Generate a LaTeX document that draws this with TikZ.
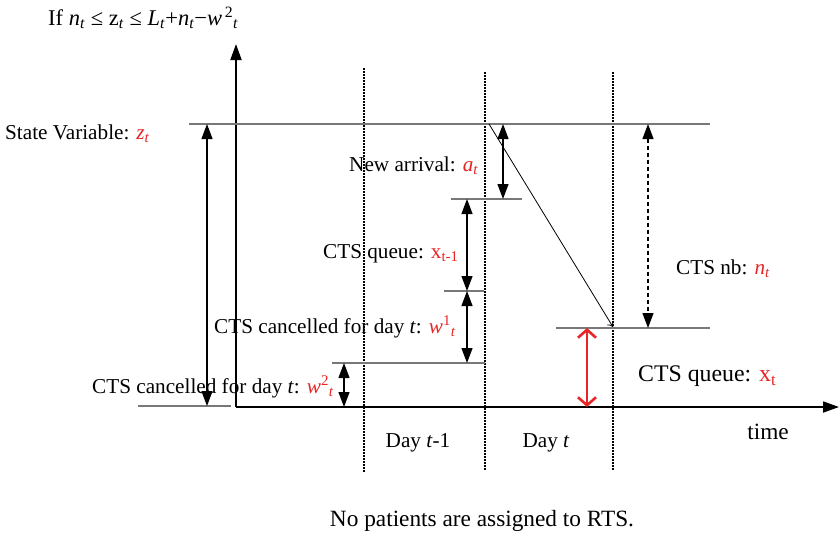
\documentclass[tikz,border=0pt]{standalone}
\usepackage{fontspec}
\setmainfont{Liberation Serif}
\usetikzlibrary{arrows.meta}
\definecolor{lblred}{RGB}{232,36,36}
\definecolor{lgray}{RGB}{120,120,120}
\newcommand{\rd}[1]{\textcolor{lblred}{#1}}
\begin{document}
\begin{tikzpicture}[x=1pt,y=-1pt,
  lbl/.style={inner sep=0pt,font=\fontsize{21.2}{25}\selectfont},
  big/.style={inner sep=0pt,font=\fontsize{23.3}{28}\selectfont},
  level/.style={draw=lgray,line width=1.4pt},
  dayline/.style={line width=1.1pt,dash pattern=on 1.5pt off 1.5pt},
  axis/.style={line width=1.8pt,-{Triangle[length=16pt,width=11pt]}},
  dbl/.style={line width=1.2pt,{Triangle[length=15pt,width=11pt]}-{Triangle[length=15pt,width=11pt]}},
  dbldash/.style={dbl,dash pattern=on 4pt off 3pt},
  redarrow/.style={draw=lblred,line width=2.6pt,{Straight Barb[length=8pt,width=18pt]}-{Straight Barb[length=8pt,width=18pt]}},
  diag/.style={line width=0.8pt,-{To[length=5pt,width=8pt]}}
]
\useasboundingbox (0,0) rectangle (840,536);
% axes
\coordinate (O) at (236,407);
\coordinate (Ytop) at (236,44);
\coordinate (Xend) at (839,407);
\draw[axis] (O) -- (Ytop);
\draw[axis] (O) -- (Xend);
% day separators
\coordinate (d1a) at (364,68); \coordinate (d1b) at (364,472);
\coordinate (d2a) at (485,72); \coordinate (d2b) at (485,471);
\coordinate (d3a) at (613,72); \coordinate (d3b) at (613,471);
\draw[dayline] (d1a) -- (d1b);
\draw[dayline] (d2a) -- (d2b);
\draw[dayline] (d3a) -- (d3b);
% level lines
\coordinate (L1a) at (189,124); \coordinate (L1b) at (710,124);
\coordinate (L2a) at (451,199); \coordinate (L2b) at (522,199);
\coordinate (L3a) at (444,291); \coordinate (L3b) at (484,291);
\coordinate (L4a) at (332,363); \coordinate (L4b) at (485,363);
\coordinate (L5a) at (556,328); \coordinate (L5b) at (710,328);
\coordinate (L6a) at (138,406); \coordinate (L6b) at (231,406);
\draw[level] (L1a) -- (L1b);
\draw[level] (L2a) -- (L2b);
\draw[level] (L3a) -- (L3b);
\draw[level] (L4a) -- (L4b);
\draw[level] (L5a) -- (L5b);
\draw[level] (L6a) -- (L6b);
% measurement arrows
\coordinate (zA) at (207,124); \coordinate (zB) at (207,406);
\coordinate (aA) at (503,124); \coordinate (aB) at (503,199);
\coordinate (qA) at (467,199); \coordinate (qB) at (467,291);
\coordinate (w1A) at (467,291); \coordinate (w1B) at (467,363);
\coordinate (w2A) at (344,363); \coordinate (w2B) at (344,407);
\coordinate (nA) at (648,124); \coordinate (nB) at (648,328);
\coordinate (xA) at (587,328); \coordinate (xB) at (587,407);
\coordinate (gA) at (489,124); \coordinate (gB) at (613,327);
\draw[dbl] (zA) -- (zB);
\draw[dbl] (aA) -- (aB);
\draw[dbl] (qA) -- (qB);
\draw[dbl] (w1A) -- (w1B);
\draw[dbl] (w2A) -- (w2B);
\draw[dbldash] (nA) -- (nB);
\draw[redarrow] (xA) -- (xB);
\draw[diag] (gA) -- (gB);
% labels
\node[inner sep=0pt,font=\fontsize{22.5}{27}\selectfont,anchor=west] (title) at (48,18) {If \textit{n}\textsubscript{\textit{t}} ≤ z\textsubscript{\textit{t}} ≤ \textit{L}\textsubscript{\textit{t}}+\textit{n}\textsubscript{\textit{t}}−\textit{w}\textsuperscript{\,2}\textsubscript{\textit{t}}};
\node[lbl,anchor=west] (state) at (5,134) {State Variable: \rd{\textit{z}\textsubscript{\textit{t}}}};
\node[lbl,anchor=west] (arr) at (349,166) {New arrival: \rd{\textit{a}\textsubscript{\textit{t}}}};
\node[lbl,anchor=west] (qprev) at (323,254) {CTS queue: \rd{x\textsubscript{t-1}}};
\node[lbl,anchor=west] (w1) at (214,327) {CTS cancelled for day \textit{t}: \rd{\textit{w}\textsuperscript{1}\textsubscript{\textit{t}}}};
\node[lbl,anchor=west] (w2) at (92,387) {CTS cancelled for day \textit{t}: \rd{\textit{w}\textsuperscript{2}\textsubscript{\textit{t}}}};
\node[lbl,anchor=west] (nb) at (676,269) {CTS nb: \rd{\textit{n}\textsubscript{\textit{t}}}};
\node[big,anchor=west,font=\fontsize{23.8}{28}\selectfont] (qnow) at (638,376) {CTS queue: \rd{x\textsubscript{t}}};
\node[big] (time) at (768,432) {time};
\node[lbl] (day1) at (418,443) {Day \textit{t}-1};
\node[lbl] (day2) at (546,443) {Day \textit{t}};
\node[big] (foot) at (482,521) {No patients are assigned to RTS.};
\end{tikzpicture}
\end{document}
